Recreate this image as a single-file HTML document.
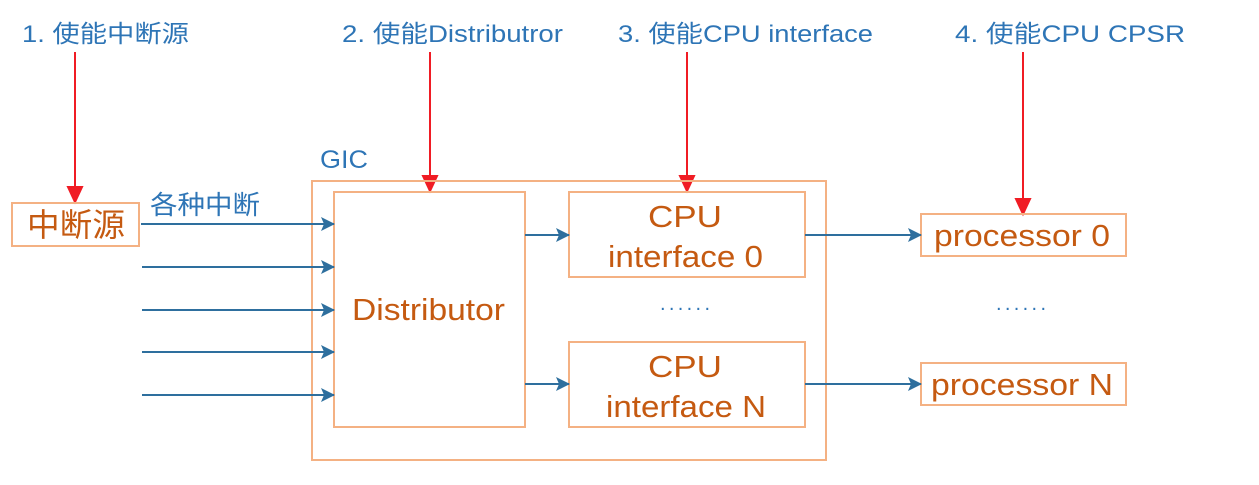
<!DOCTYPE html>
<html><head><meta charset="utf-8"><style>
body{margin:0;background:#fff;}
svg text{font-family:"Liberation Sans","Noto Sans CJK SC",sans-serif;}
</style></head><body>
<svg width="1259" height="480" viewBox="0 0 1259 480" xmlns="http://www.w3.org/2000/svg">
<defs>
<marker id="b" markerWidth="14" markerHeight="14" refX="13" refY="7" orient="auto" markerUnits="userSpaceOnUse"><path d="M0,0 L14,7 L0,14 L3,7 z" fill="#2e6f9e"/></marker>
</defs>
<g fill="#2e75b6" font-size="24" lengthAdjust="spacingAndGlyphs">
<text x="22" y="42" textLength="167" lengthAdjust="spacingAndGlyphs">1. 使能中断源</text>
<text x="342" y="42" textLength="221" lengthAdjust="spacingAndGlyphs">2. 使能Distributror</text>
<text x="618" y="42" textLength="255" lengthAdjust="spacingAndGlyphs">3. 使能CPU interface</text>
<text x="955" y="42" textLength="230" lengthAdjust="spacingAndGlyphs">4. 使能CPU CPSR</text>
<text x="320" y="168" font-size="25" textLength="48" lengthAdjust="spacingAndGlyphs">GIC</text>
<text x="150" y="214" font-size="26" textLength="110" lengthAdjust="spacingAndGlyphs">各种中断</text>
</g>
<g stroke="#f01c24" stroke-width="2" fill="#f01c24">
<line x1="75" y1="52" x2="75" y2="192"/><path d="M68,187 L75,202 L82,187 z"/>
<line x1="430" y1="52" x2="430" y2="181"/><path d="M423,176 L430,191 L437,176 z"/>
<line x1="687" y1="52" x2="687" y2="181"/><path d="M680,176 L687,191 L694,176 z"/>
<line x1="1023" y1="52" x2="1023" y2="204"/><path d="M1016,199 L1023,214 L1030,199 z"/>
</g>
<g fill="none" stroke="#f4b183" stroke-width="2">
<rect x="12" y="203" width="127" height="43"/>
<rect x="312" y="181" width="514" height="279"/>
<rect x="334" y="192" width="191" height="235"/>
<rect x="569" y="192" width="236" height="85"/>
<rect x="569" y="342" width="236" height="85"/>
<rect x="921" y="214" width="205" height="42"/>
<rect x="921" y="363" width="205" height="42"/>
</g>
<g stroke="#2e6f9e" stroke-width="2" marker-end="url(#b)">
<line x1="141" y1="224" x2="334" y2="224"/>
<line x1="142" y1="267" x2="334" y2="267"/>
<line x1="142" y1="310" x2="334" y2="310"/>
<line x1="142" y1="352" x2="334" y2="352"/>
<line x1="142" y1="395" x2="334" y2="395"/>
<line x1="525" y1="235" x2="569" y2="235"/>
<line x1="525" y1="384" x2="569" y2="384"/>
<line x1="805" y1="235" x2="921" y2="235"/>
<line x1="805" y1="384" x2="921" y2="384"/>
</g>
<g fill="#c55a11" font-size="31">
<text x="27" y="236" font-size="32" textLength="98" lengthAdjust="spacingAndGlyphs">中断源</text>
<text x="352" y="320" textLength="153" lengthAdjust="spacingAndGlyphs">Distributor</text>
<text x="648" y="227" textLength="74" lengthAdjust="spacingAndGlyphs">CPU</text>
<text x="608" y="267" textLength="155" lengthAdjust="spacingAndGlyphs">interface 0</text>
<text x="648" y="377" textLength="74" lengthAdjust="spacingAndGlyphs">CPU</text>
<text x="606" y="417" textLength="160" lengthAdjust="spacingAndGlyphs">interface N</text>
<text x="934" y="246" textLength="176" lengthAdjust="spacingAndGlyphs">processor 0</text>
<text x="931" y="395" textLength="182" lengthAdjust="spacingAndGlyphs">processor N</text>
</g>
<g fill="#2e75b6" font-size="20">
<text x="660" y="310" textLength="50" lengthAdjust="spacing">......</text>
<text x="996" y="310" textLength="50" lengthAdjust="spacing">......</text>
</g>
</svg>
</body></html>
